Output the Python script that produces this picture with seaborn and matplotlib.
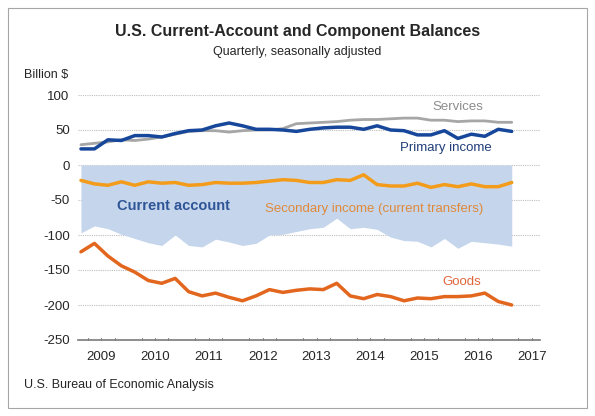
import matplotlib
matplotlib.use("Agg")
import matplotlib.pyplot as plt
import numpy as np
import pandas as pd
import seaborn as sns

# quarterly, 2009Q1 .. 2017Q1
quarters = pd.period_range("2009Q1", "2017Q1", freq="Q")
primary = [23, 23, 36, 35, 42, 42, 40, 45, 49, 50, 56, 60, 56, 51, 51, 50, 48,
           51, 53, 54, 54, 51, 56, 50, 49, 43, 43, 49, 38, 44, 41, 51, 48]
services = [29, 31, 33, 36, 35, 37, 40, 44, 48, 49, 49, 47, 49, 50, 50, 52, 59,
            60, 61, 62, 64, 65, 65, 66, 67, 67, 64, 64, 62, 63, 63, 61, 61]
secondary = [-22, -27, -29, -24, -29, -24, -26, -25, -29, -28, -25, -26, -26, -25,
             -23, -21, -22, -25, -25, -21, -22, -14, -28, -30, -30, -26, -32, -28,
             -31, -27, -31, -31, -25]
current = [-97, -87, -91, -99, -105, -111, -115, -100, -115, -117, -106, -110,
           -115, -112, -100, -99, -95, -91, -89, -76, -91, -89, -92, -103, -108,
           -109, -117, -105, -119, -109, -111, -113, -116]
goods = [-124, -112, -130, -144, -153, -165, -169, -162, -181, -187, -183, -189,
         -194, -187, -178, -182, -179, -177, -178, -169, -187, -191, -185, -188,
         -194, -190, -191, -188, -188, -187, -183, -195, -200]
year_labels = [str(y) for y in range(2009, 2018)]

x = np.array([q.year + (q.quarter - 0.5) / 4 for q in quarters])
df = pd.DataFrame({"x": x, "Primary income": primary, "Services": services,
                   "Secondary": secondary, "Goods": goods, "Current": current})

sns.set_theme(style="white")
plt.rcParams["font.family"] = ["Calibri", "Liberation Sans", "DejaVu Sans"]
plt.rcParams["axes.unicode_minus"] = False

fig = plt.figure(figsize=(5.95, 4.16), dpi=100)
ax = fig.add_axes([78 / 595, 1 - 340 / 416, 462 / 595, 245 / 416])

ax.fill_between(df["x"], 0, df["Current"], color="#c5d6ec", lw=0, zorder=1)
sns.lineplot(data=df, x="x", y="Services", color="#a6a6a6", lw=2, ax=ax, zorder=3)
sns.lineplot(data=df, x="x", y="Primary income", color="#17479a", lw=2.5, ax=ax, zorder=4)
sns.lineplot(data=df, x="x", y="Secondary", color="#f39c1c", lw=2.5, ax=ax, zorder=4)
sns.lineplot(data=df, x="x", y="Goods", color="#e2661e", lw=2.5, ax=ax, zorder=4)

ax.set_xlim(2009.07, 2017.65)
ax.set_ylim(-250, 100)
ax.set_yticks(range(-250, 101, 50))
ax.tick_params(axis="y", length=0, labelsize=9.5, pad=6)
for v in range(-200, 101, 50):
    ax.axhline(v, color="#bfbfbf", lw=0.8, ls=(0, (1, 1)), zorder=0)
ax.set_xticks(range(2010, 2018))
ax.set_xticklabels([])
ax.set_xticks([y + 0.5 for y in range(2009, 2018)], minor=True)
ax.set_xticklabels(year_labels, minor=True)
ax.tick_params(axis="x", which="major", direction="in", length=10, color="#808080", width=1)
ax.tick_params(axis="x", which="minor", length=0, labelsize=9.5, pad=8)
for xq in np.arange(2009.25, 2017.6, 0.25):
    if abs(xq - round(xq)) > 0.01:
        ax.plot([xq, xq], [-250, -247], color="#808080", lw=0.8, zorder=5, clip_on=False)
for s in ["top", "right", "left"]:
    ax.spines[s].set_visible(False)
ax.spines["bottom"].set_color("#808080")
ax.set_xlabel("")
ax.set_ylabel("")

ax.text(2016.6, 79, "Services", color="#8c8c8c", fontsize=9.5, ha="right")
ax.text(2016.75, 20, "Primary income", color="#1f3d7a", fontsize=9.5, ha="right")
ax.text(2009.8, -65, "Current account", color="#2f5597", fontsize=10.5, fontweight="bold")
ax.text(2016.6, -67, "Secondary income (current transfers)", color="#e0893a", fontsize=9.5, ha="right")
ax.text(2016.2, -171, "Goods", color="#e0663a", fontsize=9.5, ha="center")

fig.text(0.5, 1 - 36 / 416, "U.S. Current-Account and Component Balances",
         ha="center", fontsize=11.5, fontweight="bold")
fig.text(0.5, 1 - 55 / 416, "Quarterly, seasonally adjusted", ha="center", fontsize=9)
fig.text(24 / 595, 1 - 78 / 416, "Billion $", fontsize=9)
fig.text(24 / 595, 1 - 388 / 416, "U.S. Bureau of Economic Analysis", fontsize=9)
fig.patches.append(plt.Rectangle((8 / 595, 8 / 416), 579 / 595, 400 / 416, transform=fig.transFigure,
                                 fill=False, ec="#a6a6a6", lw=0.8))

fig.savefig("out.png", dpi=100)
